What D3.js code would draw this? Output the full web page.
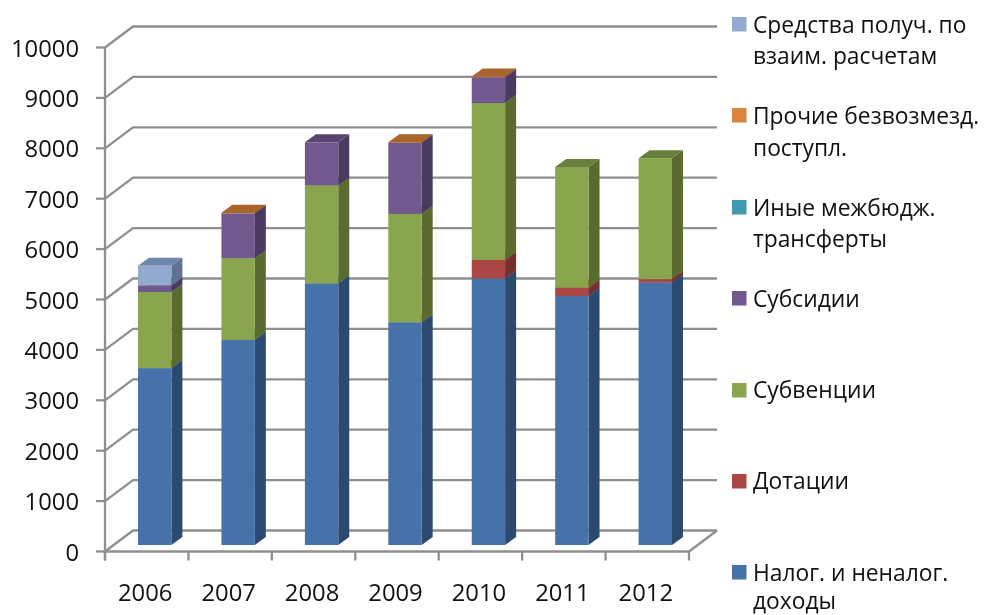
<!DOCTYPE html>
<html><head><meta charset="utf-8">
<script src="https://cdn.jsdelivr.net/npm/d3@7/dist/d3.min.js"></script>
<style>html,body{margin:0;padding:0;background:#fff}svg{display:block;filter:blur(0.45px)}text{font-family:"Open Sans",sans-serif;fill:#111}</style>
</head><body><svg id="c" width="984" height="615"></svg>
<script>
const years = ["2006","2007","2008","2009","2010","2011","2012"];
const yTicks = [0,1000,2000,3000,4000,5000,6000,7000,8000,9000,10000];
const nalog    = [3510,4070,5190,4420,5290,4940,5210];
const dotacii  = [0,0,0,0,365,165,65];
const subvencii= [1510,1620,1945,2150,3115,2395,2400];
const subsidii = [130,890,855,1410,510,0,0];
const inye     = [0,0,0,0,0,0,0];
const prochie  = [0,12,0,12,15,0,0];
const sredstva = [390,0,0,0,0,0,0];
const seriesNames = ["Налог. и неналог. доходы","Дотации","Субвенции","Субсидии","Иные межбюдж. трансферты","Прочие безвозмезд. поступл.","Средства получ. по взаим. расчетам"];
const seriesValues = [nalog,dotacii,subvencii,subsidii,inye,prochie,sredstva];
const faceColors = ["#4672a9","#aa4643","#89a54e","#71588f","#4198af","#db843d","#93a9cf"];
const sideColors = ["#2c4a70","#73302e","#5b6b30","#4a3a5f","#2b6a7a","#8a5a2a","#5f7390"];
const topColors  = ["#38608f","#8a3a38","#68803c","#5a4470","#35808f","#a9652a","#6f86aa"];
const legendLines = [
 {i:6,sy:17,lines:[["Средства получ. по",33],["взаим. расчетам",64]]},
 {i:5,sy:108,lines:[["Прочие безвозмезд.",124],["поступл.",156]]},
 {i:4,sy:200,lines:[["Иные межбюдж.",216],["трансферты",247]]},
 {i:3,sy:291,lines:[["Субсидии",307]]},
 {i:2,sy:383,lines:[["Субвенции",398]]},
 {i:1,sy:474,lines:[["Дотации",489]]},
 {i:0,sy:565,lines:[["Налог. и неналог.",581],["доходы",609]]}
];
const svg = d3.select("#c");
const W0=105,W1=689,Y0=551.5,Y1=47.5,DX=28,DY=21;
const x = d3.scaleBand().domain(years).range([W0,W1]).paddingInner(0.6).paddingOuter(0.3);
const y = d3.scaleLinear().domain([0,10000]).range([Y0,Y1]);
const step = x.step();
const gridColor="#8f8f8f";
const grid = svg.append("g").attr("fill","none").attr("stroke",gridColor).attr("stroke-width",2.3);
yTicks.forEach(t=>{
  const py=y(t);
  grid.append("path").attr("d",`M${W0},${py}L${W0+DX},${py-DY}L${W1+DX},${py-DY}`);
  grid.append("line").attr("x1",W0-9).attr("x2",W0).attr("y1",py).attr("y2",py);
});
grid.append("line").attr("x1",W0).attr("x2",W0).attr("y1",Y1).attr("y2",Y0+9);
grid.append("line").attr("x1",W0).attr("x2",W1).attr("y1",Y0).attr("y2",Y0);
grid.append("line").attr("x1",W1).attr("x2",W1+DX).attr("y1",Y0).attr("y2",Y0-DY);
d3.range(8).forEach(k=>{
  const px=W0+k*step;
  grid.append("line").attr("x1",px).attr("x2",px).attr("y1",Y0).attr("y2",Y0+9);
});
svg.append("g").selectAll("text").data(yTicks).join("text")
  .attr("x",79).attr("y",d=>y(d)+9).attr("text-anchor","end").attr("font-size",23.8).text(d=>d);
svg.append("g").selectAll("text").data(years).join("text")
  .attr("x",d=>x(d)+x.bandwidth()/2-1.5).attr("y",601).attr("text-anchor","middle").attr("font-size",23.8).text(d=>d);
// bars
const offX=8,offY=6.5,bx=11,by=8;
const table = years.map((yr,i)=>{const o={year:yr};seriesNames.forEach((n,s)=>o[n]=seriesValues[s][i]);return o;});
const stacked = d3.stack().keys(seriesNames)(table);
const bars = svg.append("g");
years.forEach((yr,i)=>{
  const g=bars.append("g");
  const l=x(yr)+offX, w=x.bandwidth(), r=l+w;
  stacked.forEach((ser,s)=>{
    const [a,b]=ser[i];
    if(b-a<=0) return;
    const yb=y(a)-offY, yt=y(b)-offY;
    g.append("path").attr("fill",sideColors[s]).attr("d",`M${r},${yb}L${r+bx},${yb-by}L${r+bx},${yt-by}L${r},${yt}Z`);
    g.append("path").attr("fill",topColors[s]).attr("d",`M${l},${yt}L${r},${yt}L${r+bx},${yt-by}L${l+bx},${yt-by}Z`);
    g.append("rect").attr("fill",faceColors[s]).attr("x",l).attr("y",yt).attr("width",w).attr("height",yb-yt);
  });
});
// legend
const leg=svg.append("g");
legendLines.forEach(e=>{
  leg.append("rect").attr("x",732).attr("y",e.sy).attr("width",14.5).attr("height",14.5).attr("fill",faceColors[e.i]);
  e.lines.forEach(([t,by])=>leg.append("text").attr("x",753).attr("y",by).attr("font-size",22.8).text(t));
});
</script></body></html>
